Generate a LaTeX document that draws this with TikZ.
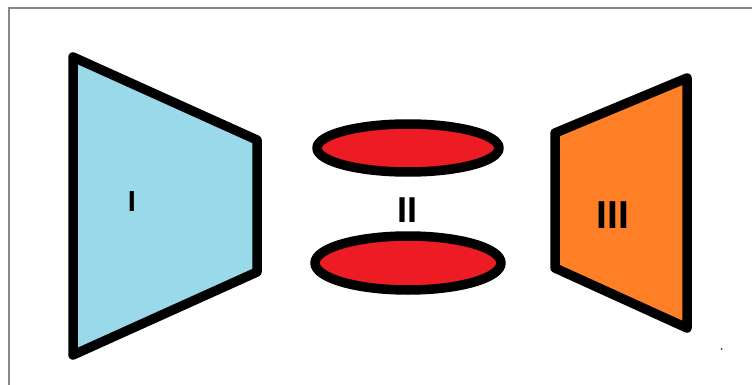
\documentclass[tikz,border=0pt]{standalone}
\usepackage{fontspec}
\setmainfont{Liberation Sans}
\definecolor{paintblue}{RGB}{153,217,234}
\definecolor{paintred}{RGB}{237,28,36}
\definecolor{paintorange}{RGB}{255,127,39}
\definecolor{framegray}{RGB}{136,136,136}
\begin{document}
\begin{tikzpicture}[x=1pt,y=-1pt,
  shapeline/.style={draw=black,line width=9.5pt,line join=round},
  label/.style={font=\bfseries,text=black,inner sep=0pt}]
\useasboundingbox (0,0) rectangle (752,385);
\fill[white] (0,0) rectangle (752,385);
% frame
\draw[framegray,line width=1.5pt] (9,385) -- (9,8) -- (752,8);
% I
\draw[shapeline,fill=paintblue] (73,57) -- (257,140) -- (257,272) -- (73,355) -- cycle;
% II
\draw[shapeline,fill=paintred] (408,148) ellipse [x radius=91,y radius=24];
\draw[shapeline,fill=paintred] (408,263) ellipse [x radius=93,y radius=27];
% III
\draw[shapeline,fill=paintorange] (555,133) -- (687,78) -- (687,328) -- (555,268) -- cycle;
% labels
\node[label,font=\fontsize{29}{29}\bfseries\selectfont] (l1) at (132,202) {I};
\node[label,font=\fontsize{36}{36}\bfseries\selectfont] (l2) at (407,210) {II};
\node[label,font=\fontsize{39}{39}\bfseries\selectfont] (l3) at (613,215) {III};
% dot
\fill[black!80] (721.5,349) circle (1pt);
\end{tikzpicture}
\end{document}
